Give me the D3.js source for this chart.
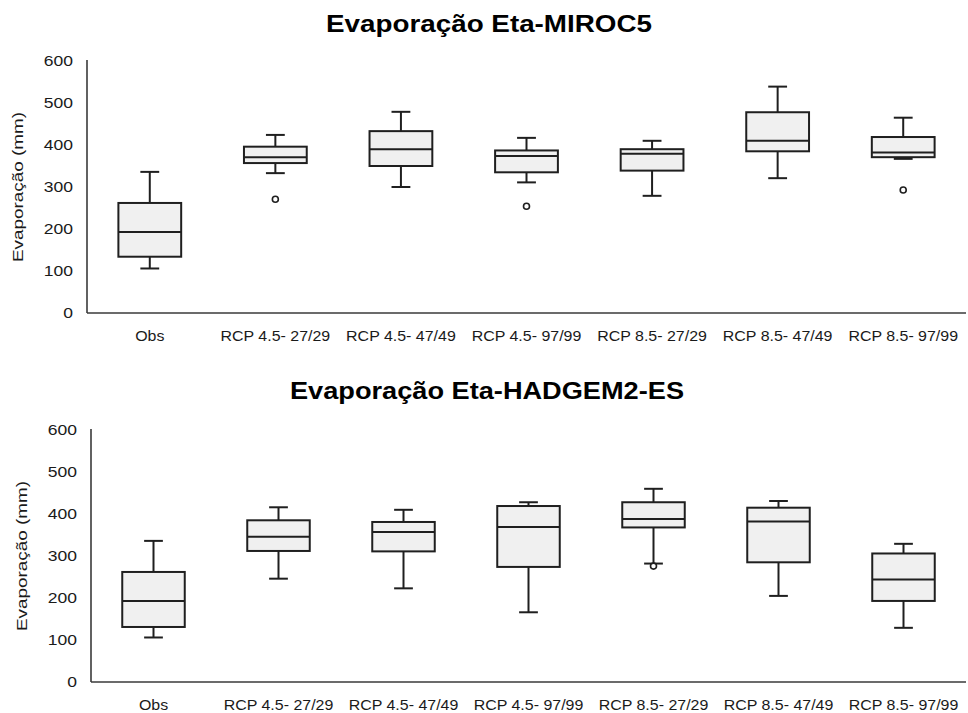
<!DOCTYPE html>
<html>
<head>
<meta charset="utf-8">
<script src="https://cdn.jsdelivr.net/npm/d3@7/dist/d3.min.js"></script>
<style>
  html, body { margin: 0; padding: 0; background: #fff; }
  svg { display: block; font-family: "Liberation Sans", Arial, sans-serif; }
</style>
</head>
<body>
<svg id="chart" width="968" height="713"></svg>
<script>
// Categories shared by both panels
const categories = ["Obs", "RCP 4.5- 27/29", "RCP 4.5- 47/49", "RCP 4.5- 97/99",
                    "RCP 8.5- 27/29", "RCP 8.5- 47/49", "RCP 8.5- 97/99"];
const yTicks = [0, 100, 200, 300, 400, 500, 600];

// Eta-MIROC5 box statistics (mm)
const mirocMin    = [106, 333, 300, 311, 279, 321, 367];
const mirocQ1     = [134, 357, 350, 335, 339, 385, 371];
const mirocMedian = [193, 371, 390, 374, 379, 410, 382];
const mirocQ3     = [262, 396, 433, 387, 390, 478, 419];
const mirocMax    = [336, 424, 479, 417, 410, 539, 465];
const mirocOutliers = [[], [271], [], [254], [], [], [293]];

// Eta-HADGEM2-ES box statistics (mm)
const hadMin    = [106, 246, 223, 166, 282, 205, 129];
const hadQ1     = [131, 312, 311, 274, 368, 285, 193];
const hadMedian = [193, 346, 357, 369, 388, 382, 244];
const hadQ3     = [262, 385, 381, 419, 428, 415, 306];
const hadMax    = [336, 416, 410, 428, 460, 431, 329];
const hadOutliers = [[], [], [], [], [276], [], []];

const svg = d3.select("#chart");
const INK = "#1f1f1f";

// Stretch a text node horizontally to a given factor of its natural width
function widen(sel, factor) {
  sel.each(function () {
    const w = this.getComputedTextLength();
    d3.select(this).attr("textLength", w * factor).attr("lengthAdjust", "spacingAndGlyphs");
  });
}

function drawPanel(p) {
  const g = svg.append("g");

  const x = d3.scaleBand().domain(categories).range([p.left, p.right]);
  const y = d3.scaleLinear().domain([0, 600]).range([p.bottom, p.top]);

  const rows = categories.map((c, i) => ({
    cat: c, min: p.min[i], q1: p.q1[i], med: p.median[i], q3: p.q3[i], max: p.max[i], out: p.outliers[i]
  }));

  // Title
  const title = g.append("text")
    .attr("x", p.titleX).attr("y", p.titleY)
    .attr("text-anchor", "middle")
    .attr("font-size", 23.5).attr("font-weight", "bold").attr("fill", "#000")
    .text(p.title);
  title.attr("textLength", p.titleWidth).attr("lengthAdjust", "spacingAndGlyphs");

  // Y axis (line + labels, no tick marks)
  const yAxis = g.append("g").attr("transform", `translate(${p.left},0)`)
    .call(d3.axisLeft(y).tickValues(yTicks).tickSize(0).tickPadding(14).tickFormat(d3.format("d")));
  yAxis.select(".domain").attr("stroke", "#3a3a3a").attr("stroke-width", 1.6)
    .attr("d", `M0,${p.top - 1}V${p.bottom}`);
  yAxis.selectAll("text").attr("font-size", 15.5).attr("fill", "#1a1a1a")
    .attr("font-family", "Liberation Sans, Arial, sans-serif").call(widen, 1.13);

  // X axis (line + labels, no tick marks)
  const xAxis = g.append("g").attr("transform", `translate(0,${p.bottom})`)
    .call(d3.axisBottom(x).tickSize(0).tickPadding(18));
  xAxis.select(".domain").attr("stroke", "#3a3a3a").attr("stroke-width", 1.6)
    .attr("d", `M${p.left},0H${p.right}`);
  xAxis.selectAll("text").attr("font-size", 14.5).attr("fill", "#1a1a1a")
    .attr("font-family", "Liberation Sans, Arial, sans-serif").call(widen, 1.1);

  // Y axis title
  g.append("text")
    .attr("transform", `translate(${p.yTitleX},${(p.top + p.bottom) / 2}) rotate(-90)`)
    .attr("text-anchor", "middle")
    .attr("font-size", 15.5).attr("fill", "#1a1a1a")
    .text("Evaporação (mm)")
    .attr("textLength", 150).attr("lengthAdjust", "spacingAndGlyphs");

  const bw = x.bandwidth() * 0.5;
  const cw = x.bandwidth() * 0.15;

  const box = g.selectAll(".box").data(rows).join("g").attr("class", "box")
    .attr("transform", d => `translate(${x(d.cat) + x.bandwidth() / 2},0)`);

  // Whisker stems
  box.append("line").attr("x1", 0).attr("x2", 0)
    .attr("y1", d => y(d.q3)).attr("y2", d => y(d.max))
    .attr("stroke", INK).attr("stroke-width", 2);
  box.append("line").attr("x1", 0).attr("x2", 0)
    .attr("y1", d => y(d.q1)).attr("y2", d => y(d.min))
    .attr("stroke", INK).attr("stroke-width", 2);
  // Whisker caps
  box.append("line").attr("x1", -cw / 2).attr("x2", cw / 2)
    .attr("y1", d => y(d.max)).attr("y2", d => y(d.max))
    .attr("stroke", INK).attr("stroke-width", 2);
  box.append("line").attr("x1", -cw / 2).attr("x2", cw / 2)
    .attr("y1", d => y(d.min)).attr("y2", d => y(d.min))
    .attr("stroke", INK).attr("stroke-width", 2);
  // Box
  box.append("rect").attr("x", -bw / 2).attr("width", bw)
    .attr("y", d => y(d.q3)).attr("height", d => y(d.q1) - y(d.q3))
    .attr("fill", "#f0f0f0").attr("stroke", INK).attr("stroke-width", 2);
  // Median
  box.append("line").attr("x1", -bw / 2).attr("x2", bw / 2)
    .attr("y1", d => y(d.med)).attr("y2", d => y(d.med))
    .attr("stroke", INK).attr("stroke-width", 2);
  // Outliers
  box.selectAll("circle").data(d => d.out).join("circle")
    .attr("cx", 0).attr("cy", v => y(v)).attr("r", 3)
    .attr("fill", "#fff").attr("stroke", INK).attr("stroke-width", 1.6);
}

drawPanel({
  title: "Evaporação Eta-MIROC5", titleX: 489, titleY: 32, titleWidth: 326,
  left: 87, right: 966, top: 61, bottom: 313, yTitleX: 23,
  min: mirocMin, q1: mirocQ1, median: mirocMedian, q3: mirocQ3, max: mirocMax, outliers: mirocOutliers
});

drawPanel({
  title: "Evaporação Eta-HADGEM2-ES", titleX: 487, titleY: 399, titleWidth: 394,
  left: 91, right: 966, top: 430, bottom: 682, yTitleX: 27,
  min: hadMin, q1: hadQ1, median: hadMedian, q3: hadQ3, max: hadMax, outliers: hadOutliers
});
</script>
</body>
</html>
